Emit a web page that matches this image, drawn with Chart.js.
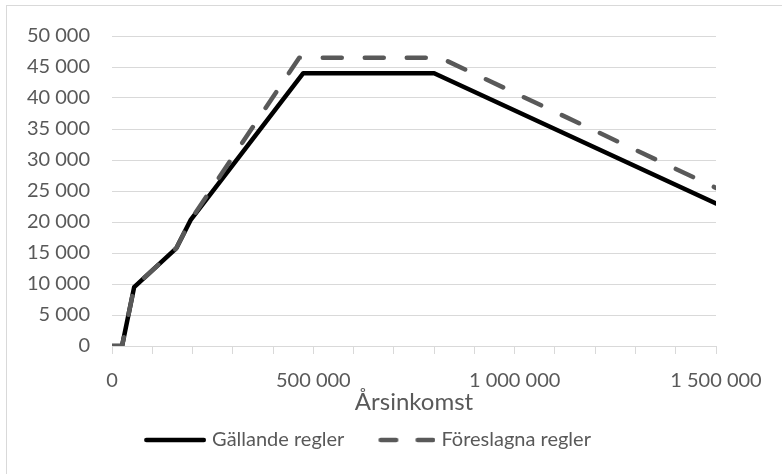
<!DOCTYPE html>
<html>
<head>
<meta charset="utf-8">
<script src="https://cdn.jsdelivr.net/npm/chart.js@4/dist/chart.umd.min.js"></script>
<style>
  html, body { margin: 0; padding: 0; background: #ffffff; }
  #wrap { width: 782px; height: 474px; }
</style>
</head>
<body>
<div id="wrap"><canvas id="c" width="782" height="474"></canvas></div>
<script>
// Bidrag i kronor som funktion av årsinkomst
const incomeCurrent   = [0, 25000, 55000, 160000, 195000, 475000, 800000, 1500000];
const benefitCurrent  = [0, 0, 9500, 15800, 20300, 44000, 44000, 23000];
const incomeProposed  = [0, 25000, 55000, 160000, 195000, 465000, 815000, 1500000];
const benefitProposed = [0, 0, 9500, 15800, 20300, 46500, 46500, 25500];

const seriesNames = ['Gällande regler', 'Föreslagna regler'];
const xTitle = 'Årsinkomst';

const xMin = 0, xMax = 1500000, xStep = 100000, xLabelEvery = 500000;
const yMin = 0, yMax = 50000, yStep = 5000;

const FONT = 'Lato, "Open Sans", sans-serif';
const TEXT = '#595959';
const GRID = '#d9d9d9';
const LINE_W = 4.5;

function spaced(v) {
  return String(Math.round(v)).replace(/\B(?=(\d{3})+(?!\d))/g, ' ');
}
function toPoints(xs, ys) {
  return xs.map((x, i) => ({ x: x, y: ys[i] }));
}

// Legend swatches: a short solid or dashed stroke, right-aligned in a wider box
const SWATCH_BOX = 77;
function swatch(color, dash, visible) {
  const c = document.createElement('canvas');
  c.width = SWATCH_BOX + 8;
  c.height = 10;
  const g = c.getContext('2d');
  g.strokeStyle = color;
  g.lineWidth = LINE_W;
  g.lineCap = 'round';
  g.setLineDash(dash);
  const x1 = c.width - LINE_W / 2;
  const x0 = c.width - visible + LINE_W / 2;
  g.beginPath();
  g.moveTo(x0, 5);
  g.lineTo(x1, 5);
  g.stroke();
  return c;
}
const swatches = [
  swatch('#000000', [], 62),
  swatch('#595959', [15.5, 21.5], 57)
];

// Thin frame around the whole chart
const framePlugin = {
  id: 'frame',
  beforeDraw(chart) {
    const ctx = chart.ctx;
    ctx.save();
    ctx.fillStyle = '#ffffff';
    ctx.fillRect(0, 0, chart.width, chart.height);
    ctx.strokeStyle = GRID;
    ctx.lineWidth = 1;
    ctx.strokeRect(6.5, 5.5, chart.width + 20, chart.height + 20);
    ctx.restore();
  }
};

new Chart(document.getElementById('c'), {
  type: 'line',
  data: {
    datasets: [
      {
        label: seriesNames[0],
        data: toPoints(incomeCurrent, benefitCurrent),
        borderColor: '#000000',
        backgroundColor: '#000000',
        borderWidth: LINE_W,
        borderCapStyle: 'round',
        borderJoinStyle: 'round',
        pointRadius: 0,
        tension: 0,
        order: 2
      },
      {
        label: seriesNames[1],
        data: toPoints(incomeProposed, benefitProposed),
        borderColor: '#595959',
        backgroundColor: '#595959',
        borderWidth: LINE_W,
        borderDash: [19, 23],
        borderCapStyle: 'round',
        borderJoinStyle: 'round',
        pointRadius: 0,
        tension: 0,
        order: 1
      }
    ]
  },
  options: {
    responsive: false,
    animation: false,
    devicePixelRatio: 1,
    layout: { padding: { left: 0, right: 66, top: 36, bottom: 14 } },
    plugins: {
      tooltip: { enabled: false },
      legend: {
        position: 'bottom',
        labels: {
          usePointStyle: true,
          pointStyleWidth: SWATCH_BOX,
          padding: 10,
          color: TEXT,
          font: { family: FONT, size: 20 },
          sort: (a, b) => a.datasetIndex - b.datasetIndex,
          generateLabels(chart) {
            const items = Chart.defaults.plugins.legend.labels.generateLabels(chart);
            items.forEach((it) => { it.pointStyle = swatches[it.datasetIndex]; });
            return items;
          }
        }
      }
    },
    scales: {
      x: {
        type: 'linear',
        min: xMin,
        max: xMax,
        afterFit(scale) { scale.height = 74; },
        border: { display: true, color: GRID, width: 1 },
        grid: { drawOnChartArea: false, drawTicks: true, tickLength: 8, color: GRID },
        ticks: {
          stepSize: xStep,
          autoSkip: false,
          maxRotation: 0,
          padding: 15,
          color: TEXT,
          font: { family: FONT, size: 20 },
          callback: (v) => (v % xLabelEvery === 0 ? spaced(v) : '')
        },
        title: {
          display: true,
          text: xTitle,
          color: TEXT,
          padding: { top: 0, bottom: 6 },
          font: { family: FONT, size: 24, lineHeight: 1.0 }
        }
      },
      y: {
        min: yMin,
        max: yMax,
        afterFit(scale) { scale.width = 112; },
        border: { display: false },
        grid: { color: GRID, lineWidth: 1, drawTicks: false },
        ticks: {
          stepSize: yStep,
          padding: 22,
          color: TEXT,
          font: { family: FONT, size: 20 },
          callback: (v) => spaced(v)
        }
      }
    }
  },
  plugins: [framePlugin]
});
</script>
</body>
</html>
